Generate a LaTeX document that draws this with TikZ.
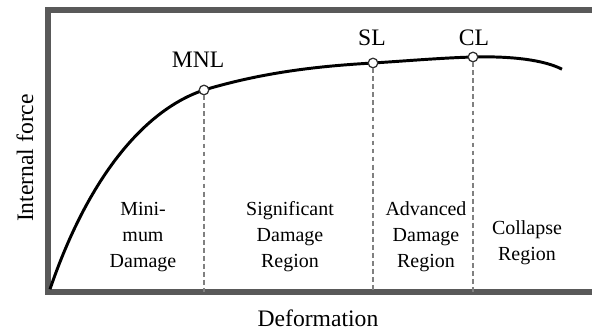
\documentclass[tikz,border=0pt]{standalone}
\usepackage{fontspec}
\setmainfont{Liberation Serif}
\usetikzlibrary{positioning}

\tikzset{
  frame/.style={line width=3.6pt,draw=black!65},
  limit/.style={circle,draw=black!80,fill=white,line width=0.9pt,inner sep=0pt,minimum size=0.24cm},
  guide/.style={draw=black!50,line width=1.4pt,dash pattern=on 3.5pt off 2.2pt},
  region/.style={align=center,font=\fontsize{14.2}{18.5}\selectfont},
  lvl/.style={font=\fontsize{16.8}{19}\selectfont}
}

\begin{document}
\begin{tikzpicture}
\useasboundingbox (0,0) rectangle (14.8,8.25);
\coordinate (o) at (1.2,0.95);
\draw[frame] (14.9,8.0) -- (1.2,8.0) -- (o) -- (14.9,0.95);
% capacity curve
\draw[line width=2.1pt] (1.25,1.02) .. controls (2.2,3.8) and (3.6,5.5) .. (5.1,6.0)
  .. controls (6.6,6.45) and (8.0,6.6) .. (9.325,6.675)
  .. controls (10.2,6.73) and (11.0,6.8) .. (11.825,6.825)
  .. controls (12.8,6.85) and (13.6,6.75) .. (14.05,6.52);
\node[limit] (mnl) at (5.1,6.0) {};
\node[limit] (sl) at (9.325,6.675) {};
\node[limit] (cl) at (11.825,6.825) {};
\foreach \p in {mnl,sl,cl}
  \draw[guide] (\p.south) -- (\p |- o);
\node[lvl] at (4.95,6.75) {MNL};
\node[lvl] at (9.3,7.3) {SL};
\node[lvl] at (11.85,7.3) {CL};
\node[region] at (3.575,2.325) {Mini-\\mum\\Damage};
\node[region] at (7.25,2.325) {Significant\\Damage\\Region};
\node[region] at (10.65,2.325) {Advanced\\Damage\\Region};
\node[region] at (13.175,2.175) {Collapse\\Region};
\node[lvl,rotate=90] at (0.625,4.3) {Internal force};
\node[lvl] at (7.95,0.3) {Deformation};
\end{tikzpicture}
\end{document}
